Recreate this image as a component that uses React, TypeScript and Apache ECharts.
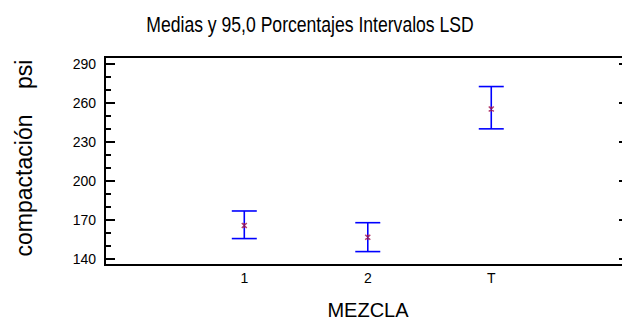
import React, { useEffect, useRef } from 'react';
import * as echarts from 'echarts';

const categories = ['1', '2', 'T'];
const positions = [1, 2, 3];
const means = [165.5, 156.5, 255.0];
const lower = [155.5, 145.5, 239.8];
const upper = [176.7, 167.7, 272.3];
const yMajorTicks = [140, 170, 200, 230, 260, 290];
const yMinorTicks = [150, 160, 180, 190, 210, 220, 240, 250, 270, 280];

const Y_MIN = 135.2;
const Y_MAX = 295;
const X_MIN = -0.128;
const X_MAX = 4.083;

const FONT = "'Liberation Sans', Arial, Helvetica, sans-serif";

export default function App() {
  const ref = useRef<HTMLDivElement>(null);
  useEffect(() => {
    const chart = echarts.init(ref.current!, null, { renderer: 'svg' });
    const errData = positions.map((x, i) => [x, lower[i], upper[i]]);
    const meanData = positions.map((x, i) => [x, means[i]]);
    const black = { color: '#000', width: 2 };
    chart.setOption({
      animation: false,
      backgroundColor: '#fff',
      textStyle: { fontFamily: FONT },
      grid: {
        left: 105,
        top: 57,
        width: 520,
        bottom: 55,
        containLabel: false,
        outerBoundsMode: 'none',
        show: true,
        borderColor: '#000',
        borderWidth: 2,
        backgroundColor: 'transparent',
      },
      graphic: [
        {
          type: 'text',
          x: 310,
          y: 24.5,
          scaleX: 0.8,
          style: {
            text: 'Medias y 95,0 Porcentajes Intervalos LSD',
            fontSize: 22,
            fontFamily: FONT,
            fill: '#000',
            textAlign: 'center',
            textVerticalAlign: 'middle',
          },
        },
      ],
      xAxis: {
        type: 'value',
        min: X_MIN,
        max: X_MAX,
        axisLine: { onZero: false, lineStyle: black },
        axisTick: { show: false },
        splitLine: { show: false },
        axisLabel: {
          customValues: positions,
          formatter: (v: number) => {
            const i = positions.indexOf(v);
            return i >= 0 ? categories[i] : '';
          },
          fontSize: 14,
          color: '#000',
          margin: 6,
        },
        name: 'MEZCLA',
        nameLocation: 'middle',
        nameGap: 35,
        nameTextStyle: { fontSize: 20, color: '#000', padding: [0, 0, 0, 6] },
      },
      yAxis: [
        {
          type: 'value',
          min: Y_MIN,
          max: Y_MAX,
          position: 'left',
          offset: 0,
          axisLine: { show: true, onZero: false, lineStyle: black },
          axisTick: {
            show: true,
            inside: true,
            length: 10,
            customValues: yMajorTicks,
            lineStyle: black,
          },
          axisLabel: {
            customValues: yMajorTicks,
            fontSize: 14,
            color: '#000',
            margin: 9,
          },
          splitLine: { show: false },
          name: 'compactación\u00A0\u00A0\u00A0\u00A0psi',
          nameLocation: 'middle',
          nameRotate: 90,
          nameGap: 70,
          nameTextStyle: { fontSize: 23, color: '#000', padding: [0, 0, 0, 6] },
        },
        {
          type: 'value',
          min: Y_MIN,
          max: Y_MAX,
          position: 'left',
          offset: 0,
          axisLine: { show: false, onZero: false },
          axisTick: {
            show: true,
            inside: true,
            length: 6,
            customValues: yMinorTicks,
            lineStyle: black,
          },
          axisLabel: { show: false },
          splitLine: { show: false },
        },
        {
          type: 'value',
          min: Y_MIN,
          max: Y_MAX,
          position: 'right',
          offset: 0,
          axisLine: { show: true, onZero: false, lineStyle: black },
          axisTick: {
            show: true,
            inside: true,
            length: 6,
            customValues: yMajorTicks,
            lineStyle: black,
          },
          axisLabel: { show: false },
          splitLine: { show: false },
        },
      ],
      series: [
        {
          type: 'custom',
          xAxisIndex: 0,
          yAxisIndex: 0,
          encode: { x: 0, y: [1, 2] },
          data: errData,
          z: 3,
          renderItem: (params: any, api: any) => {
            const x = api.value(0);
            const lo = api.value(1);
            const hi = api.value(2);
            const pLo = api.coord([x, lo]);
            const pHi = api.coord([x, hi]);
            const hw = 12.5;
            const style = { stroke: '#0000FF', lineWidth: 1.6 };
            return {
              type: 'group',
              children: [
                { type: 'line', shape: { x1: pLo[0], y1: pLo[1], x2: pHi[0], y2: pHi[1] }, style },
                { type: 'line', shape: { x1: pLo[0] - hw, y1: pLo[1], x2: pLo[0] + hw, y2: pLo[1] }, style },
                { type: 'line', shape: { x1: pHi[0] - hw, y1: pHi[1], x2: pHi[0] + hw, y2: pHi[1] }, style },
              ],
            };
          },
        },
        {
          type: 'scatter',
          xAxisIndex: 0,
          yAxisIndex: 0,
          data: meanData,
          symbol: 'path://M0,0L10,10M10,0L0,10M5,0L5,10',
          symbolSize: 5,
          itemStyle: { color: 'none', borderColor: '#A0104A', borderWidth: 1.5 },
          z: 4,
        },
      ],
    });
    return () => chart.dispose();
  }, []);
  return (
    <div
      ref={ref}
      style={{ position: 'fixed', left: 0, top: 0, width: 622, height: 320 }}
    />
  );
}
